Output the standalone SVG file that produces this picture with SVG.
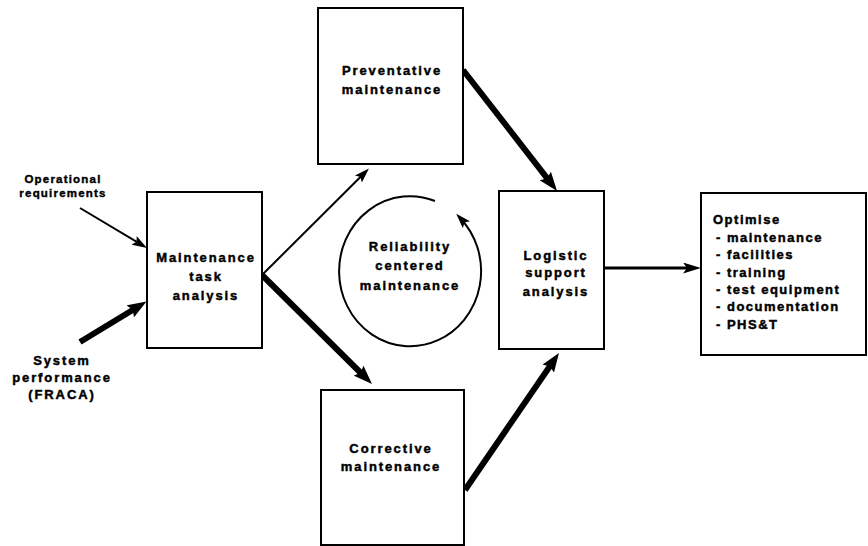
<svg xmlns="http://www.w3.org/2000/svg" width="868" height="546" viewBox="0 0 868 546">
  <style>
    .box { fill: #fff; stroke: #000; stroke-width: 2; }
    .lbl { font-family: "Liberation Sans", Arial, Helvetica, sans-serif; font-weight: bold; font-size: 13px; letter-spacing: 1.9px; fill: #000; stroke: #000; stroke-width: 0.45px; text-anchor: middle; }
    .small { font-size: 11.5px; letter-spacing: 1.2px; stroke-width: 0.4px; }
    .list { text-anchor: start; letter-spacing: 1.5px; }
    .thin { stroke: #000; stroke-width: 2; fill: none; marker-end: url(#headThin); }
    .mid { stroke: #000; stroke-width: 3; fill: none; marker-end: url(#headMid); }
    .thick { stroke: #000; stroke-width: 6; fill: none; marker-end: url(#headThick); }
  </style>
  <defs>
    <marker id="headThin" markerUnits="userSpaceOnUse" markerWidth="15" markerHeight="10" refX="9" refY="5" orient="auto">
      <path d="M0,0 L15,5 L0,10 L3,5 z" fill="#000"/>
    </marker>
    <marker id="headMid" markerUnits="userSpaceOnUse" markerWidth="18" markerHeight="11" refX="10" refY="5.5" orient="auto">
      <path d="M0,0 L18,5.5 L0,11 L4,5.5 z" fill="#000"/>
    </marker>
    <marker id="headThick" markerUnits="userSpaceOnUse" markerWidth="19" markerHeight="14" refX="9" refY="7" orient="auto">
      <path d="M0,0 L19,7 L0,14 L3,7 z" fill="#000"/>
    </marker>
  </defs>
  <rect width="868" height="546" fill="#fff"/>

  <!-- flow connectors -->
  <g id="connectors">
    <line class="thin" x1="80" y1="208" x2="141.8" y2="244.9"/>
    <line class="thick" x1="80" y1="342" x2="138" y2="306.7"/>
    <line class="thin" x1="262" y1="275" x2="364.7" y2="172.7"/>
    <line class="thick" x1="262" y1="275" x2="364.9" y2="377"/>
    <line class="thick" x1="463" y1="70" x2="550.9" y2="183.1"/>
    <line class="thick" x1="465" y1="490" x2="553.3" y2="361.2"/>
    <line class="mid" x1="605" y1="268" x2="693" y2="268"/>
  </g>

  <g id="operational-requirements">
    <text class="lbl small" x="63" y="182.5">Operational</text>
    <text class="lbl small" x="63" y="197">requirements</text>
  </g>

  <g id="system-performance">
    <text class="lbl" x="62" y="364.5">System</text>
    <text class="lbl" x="62" y="381.5">performance</text>
    <text class="lbl" x="62" y="399">(FRACA)</text>
  </g>

  <g id="maintenance-task-analysis">
    <rect class="box" x="147" y="192" width="115" height="156"/>
    <text class="lbl" x="206" y="262">Maintenance</text>
    <text class="lbl" x="206" y="281">task</text>
    <text class="lbl" x="206" y="300">analysis</text>
  </g>

  <g id="preventative-maintenance">
    <rect class="box" x="318" y="8" width="145" height="156"/>
    <text class="lbl" x="392" y="75">Preventative</text>
    <text class="lbl" x="392" y="94">maintenance</text>
  </g>

  <!-- open loop with an arrowhead around the central label -->
  <g id="reliability-centered-maintenance">
    <path class="thin" d="M435,201 A71,75 0 1,0 460.3,218.2"/>
    <text class="lbl" x="410" y="251">Reliability</text>
    <text class="lbl" x="410" y="270">centered</text>
    <text class="lbl" x="410" y="289.5">maintenance</text>
  </g>

  <g id="corrective-maintenance">
    <rect class="box" x="321" y="390" width="143" height="155"/>
    <text class="lbl" x="391" y="452.5">Corrective</text>
    <text class="lbl" x="391" y="471">maintenance</text>
  </g>

  <g id="logistic-support-analysis">
    <rect class="box" x="499" y="191" width="105" height="158"/>
    <text class="lbl" x="556" y="259.5">Logistic</text>
    <text class="lbl" x="556" y="277">support</text>
    <text class="lbl" x="556" y="296">analysis</text>
  </g>

  <g id="optimise">
    <rect class="box" x="701" y="193" width="165" height="162"/>
    <text class="lbl list" x="713" y="224">Optimise</text>
    <text class="lbl list" x="716" y="242">- maintenance</text>
    <text class="lbl list" x="716" y="259">- facilities</text>
    <text class="lbl list" x="716" y="277">- training</text>
    <text class="lbl list" x="716" y="294">- test equipment</text>
    <text class="lbl list" x="716" y="311">- documentation</text>
    <text class="lbl list" x="716" y="329">- PHS&amp;T</text>
  </g>
</svg>
